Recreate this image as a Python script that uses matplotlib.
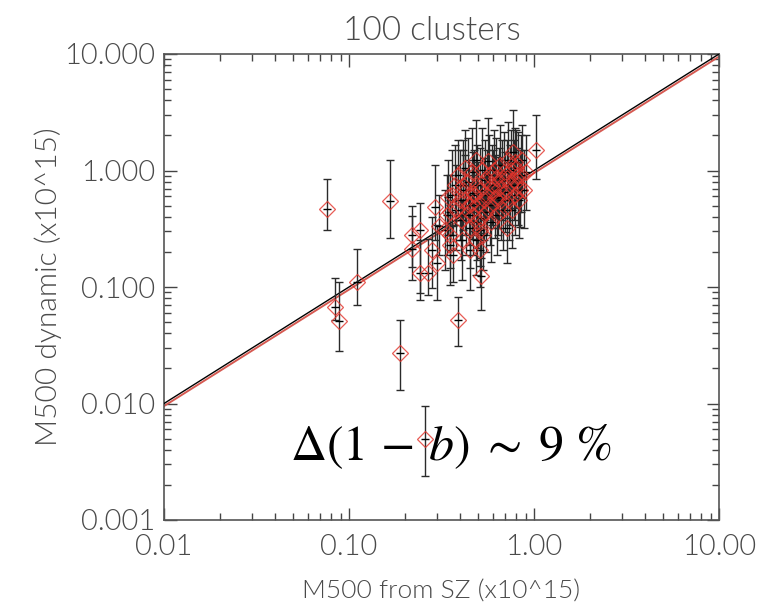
import numpy as np
import matplotlib.pyplot as plt
from matplotlib.ticker import FixedLocator, FixedFormatter, LogLocator, NullFormatter

plt.rcParams['font.family'] = ['Lato', 'DejaVu Sans']
plt.rcParams['font.weight'] = 300
plt.rcParams['axes.titleweight'] = 300
plt.rcParams['axes.labelweight'] = 300
plt.rcParams['mathtext.fontset'] = 'stix'

# M500 from SZ, dynamical M500 and the lower/upper ends of its error bar (x10^15)
m_sz = [0.076, 0.084, 0.088, 0.110, 0.167, 0.189, 0.258, 0.390, 1.03,
        0.219, 0.220, 0.242, 0.242, 0.267, 0.281, 0.292, 0.299, 0.306, 0.343,
        0.352, 0.352, 0.365, 0.413, 0.424, 0.462, 0.468, 0.492, 0.511, 0.511,
        0.517, 0.564, 0.600, 0.638, 0.714, 0.769, 0.790, 0.820, 0.840,
        0.360, 0.374, 0.379, 0.388, 0.398, 0.403, 0.413, 0.424, 0.429, 0.440,
        0.446, 0.451, 0.462, 0.468, 0.474, 0.485, 0.492, 0.498, 0.511, 0.517,
        0.523, 0.537, 0.543, 0.550, 0.557, 0.572, 0.579, 0.586, 0.593, 0.608,
        0.616, 0.623, 0.631, 0.647, 0.655, 0.663, 0.671, 0.680, 0.689, 0.697,
        0.714, 0.723, 0.732, 0.741, 0.751, 0.760, 0.779, 0.788, 0.798, 0.818,
        0.828, 0.851, 0.861, 0.883, 0.906,
        0.330, 0.339, 0.352, 0.408, 0.451, 0.485, 0.529]
m_dyn = [0.47, 0.068, 0.051, 0.110, 0.55, 0.027, 0.0050, 0.052, 1.50,
         0.21, 0.279, 0.308, 0.131, 0.131, 0.207, 0.49, 0.160, 0.333, 0.59,
         0.44, 0.279, 0.188, 0.75, 0.558, 0.53, 0.64, 0.36, 0.308, 0.207,
         0.124, 1.21, 0.68, 0.59, 0.32, 1.44, 1.18, 0.915, 0.68,
         0.615, 0.750, 0.457, 0.915, 0.558, 0.375, 0.680, 1.05, 0.414, 0.797,
         0.505, 0.320, 0.971, 0.414, 0.615, 1.23, 0.750, 0.505, 0.680, 0.390,
         1.01, 0.558, 0.829, 0.440, 0.615, 0.915, 0.505, 0.361, 0.750, 1.01,
         0.580, 0.862, 0.414, 0.707, 1.12, 0.558, 0.829, 0.457, 0.971, 0.653,
         0.862, 1.23, 0.558, 0.750, 1.01, 0.457, 0.829, 0.615, 1.05, 0.750,
         0.558, 0.915, 1.23, 0.680, 0.971,
         0.308, 0.414, 0.229, 0.2525, 0.207, 0.2525, 0.279]
dyn_lo = [0.31, 0.052, 0.028, 0.070, 0.263, 0.013, 0.0024, 0.031, 0.84,
          0.114, 0.148, 0.0884, 0.077, 0.085, 0.098, 0.2525, 0.077, 0.188, 0.279,
          0.207, 0.145, 0.110, 0.375, 0.279, 0.26, 0.30, 0.17, 0.15, 0.10,
          0.063, 0.50, 0.32, 0.28, 0.16, 0.70, 0.58, 0.44, 0.33,
          0.279, 0.340, 0.207, 0.414, 0.2525, 0.170, 0.308, 0.457, 0.188, 0.361,
          0.229, 0.145, 0.440, 0.188, 0.279, 0.558, 0.320, 0.215, 0.320, 0.177,
          0.457, 0.2525, 0.375, 0.199, 0.279, 0.414, 0.229, 0.163, 0.340, 0.457,
          0.263, 0.390, 0.188, 0.320, 0.505, 0.2525, 0.375, 0.207, 0.440, 0.296,
          0.390, 0.558, 0.2525, 0.340, 0.457, 0.215, 0.375, 0.279, 0.476, 0.340,
          0.263, 0.440, 0.580, 0.320, 0.457,
          0.1395, 0.188, 0.104, 0.114, 0.0938, 0.126, 0.1395]
dyn_hi = [0.84, 0.12, 0.110, 0.21, 1.23, 0.052, 0.0095, 0.082, 3.0,
          0.41, 0.495, 0.53, 0.2525, 0.26, 0.40, 1.12, 0.34, 0.615, 1.23,
          0.915, 0.558, 0.333, 1.50, 1.36, 1.12, 1.44, 0.75, 0.64, 0.44,
          0.29, 2.8, 1.5, 1.3, 0.70, 3.31, 2.3, 2.14, 1.5,
          1.50, 1.66, 1.12, 1.83, 1.50, 0.829, 1.83, 2.23, 1.01, 1.90,
          1.23, 0.750, 2.32, 0.915, 1.50, 2.72, 1.66, 1.18, 1.56, 0.862,
          2.32, 1.28, 1.83, 0.971, 1.50, 2.02, 1.12, 0.750, 1.66, 2.23,
          1.36, 1.90, 0.915, 1.56, 2.46, 1.23, 1.83, 1.01, 2.14, 1.44,
          1.83, 2.61, 1.18, 1.66, 2.23, 0.971, 1.83, 1.28, 2.23, 1.56,
          1.18, 2.02, 2.46, 1.50, 2.02,
          0.680, 0.915, 0.505, 0.558, 0.457, 0.558, 0.615]

fit_ratio = 0.95  # best-fit (1-b)

x_ticks = [0.01, 0.1, 1.0, 10.0]
x_labels = ['0.01', '0.10', '1.00', '10.00']
y_ticks = [0.001, 0.01, 0.1, 1.0, 10.0]
y_labels = ['0.001', '0.010', '0.100', '1.000', '10.000']

txt = '#4a4a4a'

fig = plt.figure(figsize=(7.71, 6.05), dpi=100)
ax = fig.add_axes([164 / 771, 85 / 605, 555 / 771, 466 / 605])
ax.set_xscale('log')
ax.set_yscale('log')
ax.set_xlim(0.01, 10)
ax.set_ylim(0.001, 10)

# one-to-one line and the fitted relation
line_x = np.array([0.01, 10.0])
ax.plot(line_x, line_x * fit_ratio, color='#d65a52', lw=1.4, zorder=2)
ax.plot(line_x, line_x, color='black', lw=1.0, zorder=3)

m_sz = np.array(m_sz)
m_dyn = np.array(m_dyn)
yerr = [m_dyn - np.array(dyn_lo), np.array(dyn_hi) - m_dyn]
ax.errorbar(m_sz, m_dyn, yerr=yerr, fmt='none', ecolor='#2a2a2a',
            elinewidth=1.0, capsize=3, capthick=1.0, zorder=4)
ax.plot(m_sz, m_dyn, '_', color='black', ms=6, mew=1.0, zorder=5)
ax.plot(m_sz, m_dyn, 'D', mfc='none', mec='#e2332b', ms=8.5, mew=0.9,
        alpha=0.8, zorder=6)

ax.xaxis.set_major_locator(FixedLocator(x_ticks))
ax.xaxis.set_major_formatter(FixedFormatter(x_labels))
ax.yaxis.set_major_locator(FixedLocator(y_ticks))
ax.yaxis.set_major_formatter(FixedFormatter(y_labels))
for axis in (ax.xaxis, ax.yaxis):
    axis.set_minor_locator(LogLocator(base=10, subs=np.arange(2, 10)))
    axis.set_minor_formatter(NullFormatter())

ax.tick_params(which='both', direction='in', top=True, right=True,
               color='#444444', width=1.0, labelcolor=txt, labelsize=21)
ax.tick_params(which='major', length=9)
ax.tick_params(which='minor', length=5)
ax.tick_params(axis='x', which='major', pad=10)
ax.tick_params(axis='y', which='major', pad=6)
for s in ax.spines.values():
    s.set_color('#555555')
    s.set_linewidth(1.2)

ax.set_title('100 clusters', fontsize=24, color=txt, pad=10, x=0.482)
ax.set_xlabel('M500 from SZ (x10^15)', fontsize=19, color=txt, labelpad=14)
ax.set_ylabel('M500 dynamic (x10^15)', fontsize=21.5, color=txt, labelpad=2)

fig.text(451 / 771, 1 - 447 / 605, r'$\Delta(1\,-\,b)\;\sim\;9\ \%$',
         fontsize=36, ha='center', va='center', color='black')

fig.savefig('out.png', dpi=100)
